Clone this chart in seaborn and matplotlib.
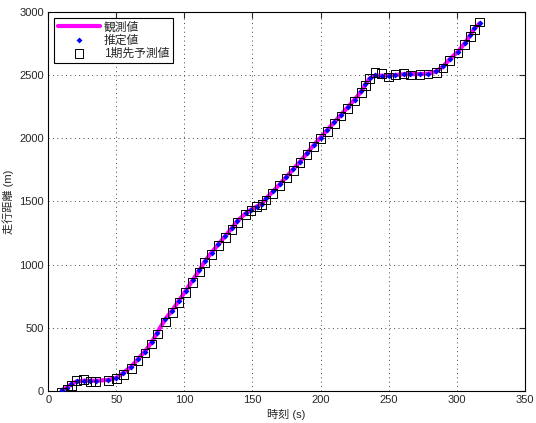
import numpy as np
import pandas as pd
import seaborn as sns
import matplotlib.pyplot as plt

# data
t = [10, 14, 17, 21, 26, 31, 35, 44, 50, 55, 61, 66, 71, 76, 80, 86, 91, 96,
     101, 106, 111, 115, 120, 125, 130, 135, 139, 145, 149, 153, 157, 160, 165,
     170, 175, 180, 185, 190, 195, 200, 205, 210, 215, 220, 225, 230, 233, 236,
     240, 245, 250, 255, 261, 266, 273, 279, 285, 290, 295, 301, 306, 310, 313, 317]
observed = [5, 28, 55, 75, 80, 80, 80, 86, 102, 142, 192, 253, 312, 385, 460, 568,
            636, 715, 792, 875, 955, 1025, 1095, 1160, 1225, 1290, 1345, 1405, 1435,
            1458, 1482, 1522, 1578, 1635, 1695, 1755, 1815, 1880, 1945, 2005, 2065,
            2125, 2185, 2245, 2305, 2370, 2425, 2472, 2497, 2494, 2496, 2500, 2506,
            2507, 2508, 2510, 2528, 2568, 2626, 2686, 2752, 2815, 2868, 2910]
estimated = [5, 25, 55, 75, 78, 78, 80, 87, 100, 142, 192, 253, 309, 385, 460, 570,
             636, 715, 790, 875, 955, 1025, 1095, 1160, 1225, 1290, 1345, 1405, 1435,
             1455, 1480, 1525, 1578, 1635, 1695, 1755, 1815, 1880, 1945, 2005, 2065,
             2125, 2185, 2245, 2305, 2370, 2425, 2476, 2497, 2490, 2494, 2500, 2508,
             2505, 2508, 2510, 2528, 2568, 2628, 2686, 2752, 2818, 2871, 2910]
predicted = [-10, 15, 45, 85, 88, 75, 76, 82, 95, 130, 180, 240, 300, 370, 450, 545,
             620, 700, 778, 860, 940, 1015, 1080, 1150, 1215, 1280, 1335, 1395, 1430,
             1460, 1478, 1510, 1565, 1625, 1685, 1745, 1805, 1870, 1935, 1995, 2055,
             2115, 2175, 2235, 2295, 2360, 2420, 2470, 2520, 2510, 2485, 2505, 2515,
             2500, 2505, 2508, 2520, 2555, 2615, 2675, 2740, 2805, 2862, 2920]

df = pd.DataFrame({'t': t, 'obs': observed, 'est': estimated, 'pred': predicted})

sns.set_style("white")
plt.rcParams['font.family'] = ['Liberation Sans', 'Noto Sans CJK JP']

fig = plt.figure(figsize=(5.36, 4.23), dpi=100)
ax = fig.add_axes([0.09, 0.076, 0.889, 0.896])

sns.lineplot(data=df, x='t', y='obs', ax=ax, color='#ff00ff', linewidth=3,
             label='観測値', zorder=2)
sns.scatterplot(data=df, x='t', y='est', ax=ax, color='#0000ff', marker='D', s=9,
                linewidth=0, label='推定値', zorder=3)
sns.scatterplot(data=df, x='t', y='pred', ax=ax, marker='s', s=40,
                facecolor='none', edgecolor='black', linewidth=0.7,
                label='1期先予測値', zorder=4)

ax.set_xlim(0, 350)
ax.set_ylim(0, 3000)
ax.set_xticks(range(0, 351, 50))
ax.set_yticks(range(0, 3001, 500))
ax.grid(True, color='#444444', linestyle=(0, (1, 3.5)), linewidth=0.7)
ax.tick_params(direction='in', top=True, right=True, length=4, labelsize=8,
               pad=3)
for s in ax.spines.values():
    s.set_color('black')
    s.set_linewidth(0.8)

ax.set_xlabel('時刻 (s)', fontsize=8, labelpad=3)
ax.set_ylabel('走行距離 (m)', fontsize=8, labelpad=4)

leg = ax.legend(loc='upper left', fontsize=8.5, frameon=True, fancybox=False,
                edgecolor='black', framealpha=1, borderaxespad=0.5,
                handlelength=3.6, labelspacing=0.1, borderpad=0.3,
                handletextpad=0.3)
leg.get_frame().set_linewidth(0.8)

fig.savefig('out.png', dpi=100)
